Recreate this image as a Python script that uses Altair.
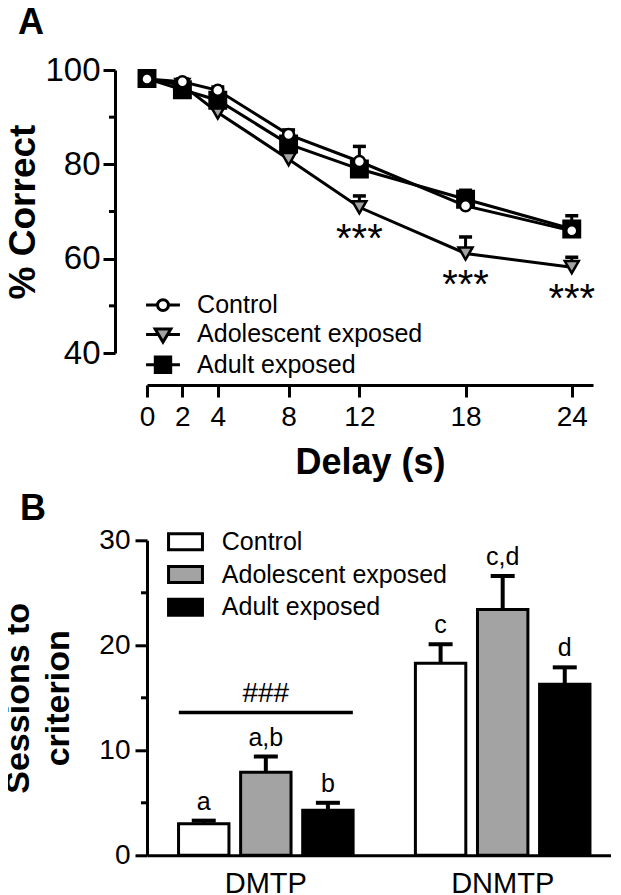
import altair as alt
import pandas as pd

# ---------------- Panel A data ----------------
delays = [0, 2, 4, 8, 12, 18, 24]
control_mean = [98.1, 97.5, 95.7, 86.3, 80.6, 71.2, 65.9]
control_sem = [0.5, 0.6, 0.7, 1.0, 3.2, 1.6, 1.6]
adolescent_mean = [98.0, 96.8, 91.0, 81.1, 70.9, 61.1, 58.2]
adolescent_sem = [0.5, 0.8, 1.0, 1.2, 2.4, 3.5, 2.1]
adult_mean = [98.2, 95.8, 93.6, 84.3, 79.0, 72.6, 66.3]
adult_sem = [0.5, 0.7, 0.9, 1.4, 1.6, 1.9, 2.8]
significant_delays = [12, 18, 24]
groups = ["Control", "Adolescent exposed", "Adult exposed"]
y_ticks_a = [40, 60, 80, 100]
y_minor_a = [50, 70, 90]

# ---------------- Panel B data ----------------
tasks = ["DMTP", "DNMTP"]
control_sessions = [3.0, 18.3]
control_sessions_sem = [0.3, 1.8]
adolescent_sessions = [7.9, 23.4]
adolescent_sessions_sem = [1.5, 3.2]
adult_sessions = [4.3, 16.3]
adult_sessions_sem = [0.7, 1.6]
control_letters = ["a", "c"]
adolescent_letters = ["a,b", "c,d"]
adult_letters = ["b", "d"]
hash_task = ["DMTP"]
hash_level = [13.6]
hash_label = ["###"]
y_ticks_b = [0, 10, 20, 30]
y_minor_b = [5, 15, 25]

GRAY = "#a3a3a3"
FONT = "Liberation Sans"
LEFT_GUIDE = -152  # common left extent for both panels (invisible)

# ---------------- tables ----------------
draw_order = ["Adolescent exposed", "Adult exposed", "Control"]
series_a = {
    "Control": (control_mean, control_sem),
    "Adolescent exposed": (adolescent_mean, adolescent_sem),
    "Adult exposed": (adult_mean, adult_sem),
}
rows = []
for g in draw_order:
    m, s = series_a[g]
    for d, mv, sv in zip(delays, m, s):
        rows.append({"delay": d, "group": g, "mean": mv, "upper": mv + sv})
df_a = pd.DataFrame(rows)
df_sig = df_a[(df_a["group"] == "Adolescent exposed") & (df_a["delay"].isin(significant_delays))]
df_minor_a = pd.DataFrame({"tick": y_minor_a})
df_leg_a = pd.DataFrame({"legend_group": groups})
df_panel_a = pd.DataFrame({"panel": ["A"]})

series_b = {
    "Control": (control_sessions, control_sessions_sem, control_letters),
    "Adolescent exposed": (adolescent_sessions, adolescent_sessions_sem, adolescent_letters),
    "Adult exposed": (adult_sessions, adult_sessions_sem, adult_letters),
}
rows = []
for g in groups:
    m, s, l = series_b[g]
    for t, mv, sv, lv in zip(tasks, m, s, l):
        rows.append({"task": t, "group": g, "mean": mv, "upper": mv + sv, "letter": lv})
df_b = pd.DataFrame(rows)
df_hash = pd.DataFrame({"task": hash_task, "level": hash_level, "label": hash_label})
df_minor_b = pd.DataFrame({"tick": y_minor_b})
df_panel_b = pd.DataFrame({"panel": ["B"]})

# ---------------- Panel A ----------------
xs_a = alt.Scale(domain=[0, 25.2], nice=False, zero=False)
ys_a = alt.Scale(domain=[40, 100], nice=False, zero=False)
common_axis = dict(grid=False, domainColor="black", domainWidth=3, tickColor="black",
                   tickWidth=3, labelColor="black", titleColor="black",
                   labelFont=FONT, titleFont=FONT, titleFontWeight="bold")
x_axis_a = alt.Axis(values=delays, offset=32, tickSize=12, labelFontSize=28, labelPadding=6,
                    titleFontSize=36, titlePadding=14, labelFlush=False, labelOverlap=False,
                    **common_axis)
y_axis_a = alt.Axis(values=y_ticks_a, offset=32, tickSize=12, labelFontSize=33, labelPadding=3,
                    titleFontSize=37, titlePadding=2, labelOverlap=False, **common_axis)

X_A = alt.X("delay:Q", scale=xs_a, axis=x_axis_a, title="Delay (s)")
Y_A = alt.Y("mean:Q", scale=ys_a, axis=y_axis_a, title="% Correct")

lines_a = alt.Chart(df_a).mark_line(color="black", strokeWidth=3).encode(
    x=X_A, y=Y_A, detail="group:N", order="delay:Q")
err_a = alt.Chart(df_a).mark_rule(color="black", strokeWidth=3).encode(
    x=X_A, y=Y_A, y2="upper:Q")
cap_a = alt.Chart(df_a).mark_tick(orient="horizontal", color="black", thickness=3.5,
                                  size=13, opacity=1).encode(
    x=X_A, y=alt.Y("upper:Q", scale=ys_a, axis=y_axis_a, title="% Correct"))
points_a = alt.Chart(df_a).mark_point(filled=True, stroke="black", strokeWidth=2.5,
                                      opacity=1).encode(
    x=X_A, y=Y_A,
    shape=alt.Shape("group:N", scale=alt.Scale(domain=groups,
                    range=["circle", "triangle-down", "square"]), legend=None),
    fill=alt.Fill("group:N", scale=alt.Scale(domain=groups,
                  range=["white", GRAY, "black"]), legend=None),
    size=alt.Size("group:O", scale=alt.Scale(domain=groups, range=[121, 270, 270]),
                  legend=None),
)
stars_a = alt.Chart(df_sig).mark_text(text="***", fontSize=40, font=FONT, baseline="alphabetic",
                                      dy=45, color="black").encode(x=X_A, y=Y_A)
minor_a = alt.Chart(df_minor_a).mark_rule(color="black", strokeWidth=3).encode(
    y=alt.Y("tick:Q", scale=ys_a, axis=y_axis_a, title="% Correct"),
    x=alt.value(-32), x2=alt.value(-38))

leg_c = "M-1.21,0H-0.39M0.39,0H1.21M-0.39,0A0.39,0.39,0,1,0,0.39,0A0.39,0.39,0,1,0,-0.39,0Z"
leg_t = "M-1.21,0H-0.31M0.31,0H1.21M-0.56,-0.38L0.56,-0.38L0,0.55Z"
leg_s = "M-1.21,0H-0.55M0.55,0H1.21M-0.55,-0.55H0.55V0.55H-0.55Z"
legend_a = alt.Legend(orient="none", legendX=0.5, legendY=219.6, title=None, padding=0,
                      labelFontSize=25, labelFont=FONT, labelColor="black", labelOffset=18.6,
                      symbolSize=784, symbolStrokeWidth=3, symbolStrokeColor="black",
                      rowPadding=0.3, labelLimit=400)
legend_layer_a = alt.Chart(df_leg_a).transform_filter("false").mark_point(
    filled=True, stroke="black", strokeWidth=3, opacity=1, size=784).encode(
    shape=alt.Shape("legend_group:N", scale=alt.Scale(domain=groups,
                    range=[leg_c, leg_t, leg_s]), legend=legend_a),
    fill=alt.Fill("legend_group:N", scale=alt.Scale(domain=groups,
                  range=["white", GRAY, "black"]), legend=legend_a),
    stroke=alt.Stroke("legend_group:N", scale=alt.Scale(domain=groups,
                      range=["black", "black", "black"]), legend=legend_a),
)
panel_a = alt.Chart(df_panel_a).mark_text(fontSize=36, fontWeight="bold", font=FONT,
                                          align="left", baseline="alphabetic",
                                          color="black").encode(
    text="panel:N", x=alt.value(-129), y=alt.value(-36))
guide_a = alt.Chart(df_panel_a).mark_rule(strokeOpacity=0, strokeWidth=0.1).encode(
    x=alt.value(LEFT_GUIDE), x2=alt.value(LEFT_GUIDE + 1), y=alt.value(100))

chart_a = alt.layer(lines_a, err_a, cap_a, points_a, stars_a, minor_a, legend_layer_a,
                    panel_a, guide_a).resolve_scale(
    shape="independent", fill="independent", size="independent",
    stroke="independent").properties(width=446, height=283)

# ---------------- Panel B ----------------
ys_b = alt.Scale(domain=[0, 30], nice=False)
xs_b = alt.Scale(domain=tasks, paddingInner=0.263, paddingOuter=0.111, align=0.6)
x_axis_b = alt.Axis(title=None, labelAngle=0, ticks=False, labelFontSize=29, labelPadding=14,
                    **common_axis)
y_axis_b = alt.Axis(values=y_ticks_b, tickSize=12, labelFontSize=28, labelPadding=5,
                    titleFontSize=34, titleLineHeight=40, titlePadding=23,
                    labelOverlap=False, **common_axis)
X_B = alt.X("task:N", scale=xs_b, axis=x_axis_b)
XO_B = alt.XOffset("group:N", scale=alt.Scale(domain=groups, paddingInner=0.188,
                                              paddingOuter=0))
TITLE_B = ["Sessions to", "criterion"]
Y_B = alt.Y("mean:Q", scale=ys_b, axis=y_axis_b, title=TITLE_B)

legend_b = alt.Legend(orient="none", legendX=22, legendY=-15, title=None, padding=0,
                      labelFontSize=25, labelFont=FONT, labelColor="black", labelOffset=19.8,
                      symbolSize=900, symbolStrokeWidth=3, symbolStrokeColor="black",
                      symbolType="M-1.13,-0.53H1.13V0.53H-1.13Z", rowPadding=1.7,
                      labelLimit=400)
bars_b = alt.Chart(df_b).mark_bar(stroke="black", strokeWidth=3, opacity=1).encode(
    x=X_B, xOffset=XO_B, y=Y_B,
    fill=alt.Fill("bar_group:N", scale=alt.Scale(domain=groups,
                  range=["white", GRAY, "black"]), legend=legend_b),
).transform_calculate(bar_group="datum.group")
err_b = alt.Chart(df_b).mark_rule(color="black", strokeWidth=4).encode(
    x=X_B, xOffset=XO_B, y=Y_B, y2="upper:Q")
cap_b = alt.Chart(df_b).mark_tick(orient="horizontal", color="black", thickness=4, size=24,
                                  opacity=1).encode(
    x=X_B, xOffset=XO_B, y=alt.Y("upper:Q", scale=ys_b, axis=y_axis_b, title=TITLE_B))
letters_b = alt.Chart(df_b).mark_text(fontSize=25, font=FONT, baseline="alphabetic", dy=-11,
                                      color="black").encode(
    x=X_B, xOffset=XO_B, y=alt.Y("upper:Q", scale=ys_b, axis=y_axis_b, title=TITLE_B),
    text="letter:N")
hash_line = alt.Chart(df_hash).mark_tick(orient="horizontal", color="black", thickness=3.5,
                                         size=174, opacity=1).encode(
    x=X_B, y=alt.Y("level:Q", scale=ys_b, axis=y_axis_b, title=TITLE_B))
hash_text = alt.Chart(df_hash).mark_text(fontSize=28, font=FONT, baseline="alphabetic",
                                         dy=-11, color="black").encode(
    x=X_B, y=alt.Y("level:Q", scale=ys_b, axis=y_axis_b, title=TITLE_B), text="label:N")
minor_b = alt.Chart(df_minor_b).mark_rule(color="black", strokeWidth=3).encode(
    y=alt.Y("tick:Q", scale=ys_b, axis=y_axis_b, title=TITLE_B),
    x=alt.value(0), x2=alt.value(-6))
panel_b = alt.Chart(df_panel_b).mark_text(fontSize=36, fontWeight="bold", font=FONT,
                                          align="left", baseline="alphabetic",
                                          color="black").encode(
    text="panel:N", x=alt.value(-127), y=alt.value(-20))
guide_b = alt.Chart(df_panel_b).mark_rule(strokeOpacity=0, strokeWidth=0.1).encode(
    x=alt.value(LEFT_GUIDE), x2=alt.value(LEFT_GUIDE + 1), y=alt.value(100))

chart_b = alt.layer(bars_b, err_b, cap_b, letters_b, hash_line, hash_text, minor_b,
                    panel_b, guide_b).properties(width=464, height=315)

chart = alt.vconcat(chart_a, chart_b, spacing=11.3).resolve_scale(
    shape="independent", fill="independent", size="independent", stroke="independent"
).resolve_legend(shape="independent", fill="independent", size="independent",
                 stroke="independent").properties(
    padding={"left": -13, "top": -3, "right": 0, "bottom": -6}
).configure(font=FONT).configure_view(stroke=None)

chart.save("out.html", embed_options={"renderer": "svg", "actions": False})
